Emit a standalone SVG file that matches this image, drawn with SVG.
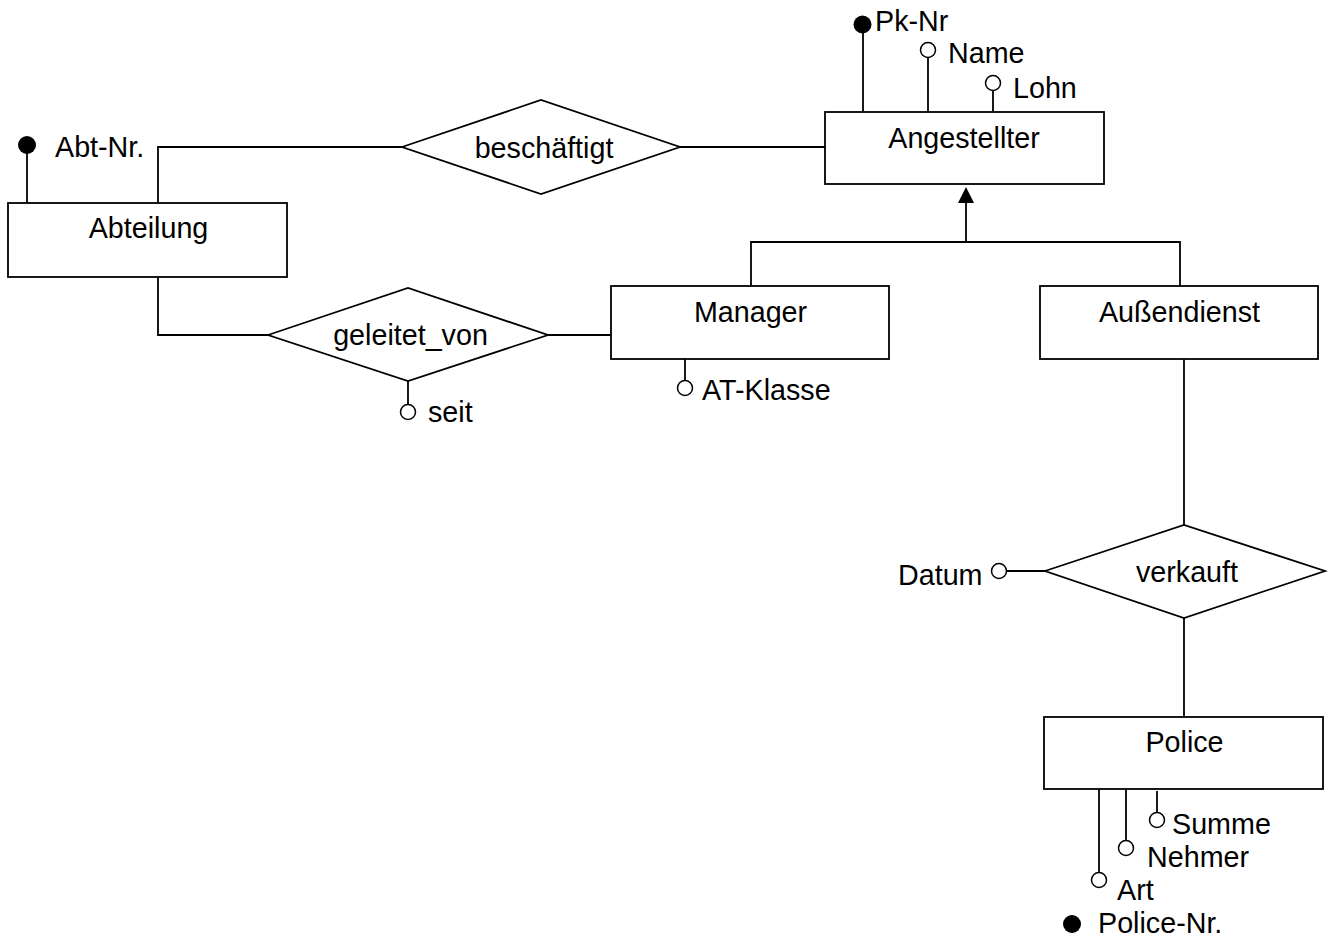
<svg xmlns="http://www.w3.org/2000/svg" width="1333" height="937" viewBox="0 0 1333 937">
  <style>
    .box { fill: #ffffff; stroke: #000000; stroke-width: 1.8; }
    .line { fill: none; stroke: #000000; stroke-width: 1.8; }
    .attr { fill: #ffffff; stroke: #000000; stroke-width: 1.5; }
    .key { fill: #000000; stroke: none; }
    text { font-family: "Liberation Sans", Arial, sans-serif; font-size: 28.7px; fill: #000000; }
    .c { text-anchor: middle; }
  </style>
  <rect width="1333" height="937" fill="#ffffff"/>

  <!-- connectors -->
  <g id="connectors">
    <!-- Abteilung - beschäftigt - Angestellter -->
    <polyline class="line" points="158,203 158,147 402,147"/>
    <line class="line" x1="680" y1="147" x2="825" y2="147"/>
    <!-- Abteilung - geleitet_von - Manager -->
    <polyline class="line" points="158,277 158,335 268,335"/>
    <line class="line" x1="548" y1="335" x2="611" y2="335"/>
    <!-- generalisation Manager / Außendienst -> Angestellter -->
    <polyline class="line" points="751,286 751,242 1180,242 1180,286"/>
    <line class="line" x1="966" y1="242" x2="966" y2="201"/>
    <polygon points="966,187 958,203 974,203" fill="#000000"/>
    <!-- Außendienst - verkauft - Police -->
    <line class="line" x1="1184" y1="359" x2="1184" y2="525"/>
    <line class="line" x1="1184" y1="618" x2="1184" y2="717"/>
  </g>

  <!-- entity: Angestellter -->
  <g id="angestellter">
    <line class="line" x1="863" y1="33" x2="863" y2="112"/>
    <circle class="key" cx="862.5" cy="24.5" r="9"/>
    <text x="875" y="31">Pk-Nr</text>
    <line class="line" x1="928" y1="58" x2="928" y2="112"/>
    <circle class="attr" cx="928" cy="50" r="7.5"/>
    <text x="948" y="63">Name</text>
    <line class="line" x1="993" y1="91" x2="993" y2="112"/>
    <circle class="attr" cx="993" cy="83" r="7.5"/>
    <text x="1013" y="98">Lohn</text>
    <rect class="box" x="825" y="112" width="279" height="72"/>
    <text class="c" x="964" y="148">Angestellter</text>
  </g>

  <!-- entity: Abteilung -->
  <g id="abteilung">
    <line class="line" x1="27" y1="150" x2="27" y2="203"/>
    <circle class="key" cx="27" cy="145" r="9"/>
    <text x="55" y="157">Abt-Nr.</text>
    <rect class="box" x="8" y="203" width="279" height="74"/>
    <text class="c" x="148.5" y="238">Abteilung</text>
  </g>

  <!-- relationship: beschäftigt -->
  <g id="beschaeftigt">
    <polygon class="box" points="402,147 541,100 680,147 541,194"/>
    <text class="c" x="544" y="158">beschäftigt</text>
  </g>

  <!-- relationship: geleitet_von -->
  <g id="geleitet_von">
    <polygon class="box" points="268,335 408,288 548,335 408,381"/>
    <text class="c" x="410.5" y="345">geleitet_von</text>
    <line class="line" x1="408" y1="381" x2="408" y2="404"/>
    <circle class="attr" cx="408" cy="412" r="7.5"/>
    <text x="428" y="422">seit</text>
  </g>

  <!-- entity: Manager -->
  <g id="manager">
    <rect class="box" x="611" y="286" width="278" height="73"/>
    <text class="c" x="750.5" y="322">Manager</text>
    <line class="line" x1="685" y1="359" x2="685" y2="380"/>
    <circle class="attr" cx="685" cy="388" r="7.5"/>
    <text x="702" y="400">AT-Klasse</text>
  </g>

  <!-- entity: Außendienst -->
  <g id="aussendienst">
    <rect class="box" x="1040" y="286" width="278" height="73"/>
    <text class="c" x="1179.5" y="322">Außendienst</text>
  </g>

  <!-- relationship: verkauft -->
  <g id="verkauft">
    <polygon class="box" points="1045,571 1184,525 1325,571 1184,618"/>
    <text class="c" x="1187" y="582">verkauft</text>
    <line class="line" x1="1007" y1="571" x2="1045" y2="571"/>
    <circle class="attr" cx="999" cy="571" r="7.5"/>
    <text x="898" y="585">Datum</text>
  </g>

  <!-- entity: Police -->
  <g id="police">
    <rect class="box" x="1044" y="717" width="279" height="72"/>
    <text class="c" x="1184.5" y="752">Police</text>
    <line class="line" x1="1157" y1="791" x2="1157" y2="812"/>
    <circle class="attr" cx="1157" cy="820" r="7.5"/>
    <text x="1172" y="834">Summe</text>
    <line class="line" x1="1126" y1="789" x2="1126" y2="840"/>
    <circle class="attr" cx="1126" cy="848" r="7.5"/>
    <text x="1147" y="867">Nehmer</text>
    <line class="line" x1="1099" y1="789" x2="1099" y2="872"/>
    <circle class="attr" cx="1099" cy="880" r="7.5"/>
    <text x="1117" y="900">Art</text>
    <circle class="key" cx="1072" cy="924" r="9"/>
    <text x="1098" y="933">Police-Nr.</text>
  </g>
</svg>
